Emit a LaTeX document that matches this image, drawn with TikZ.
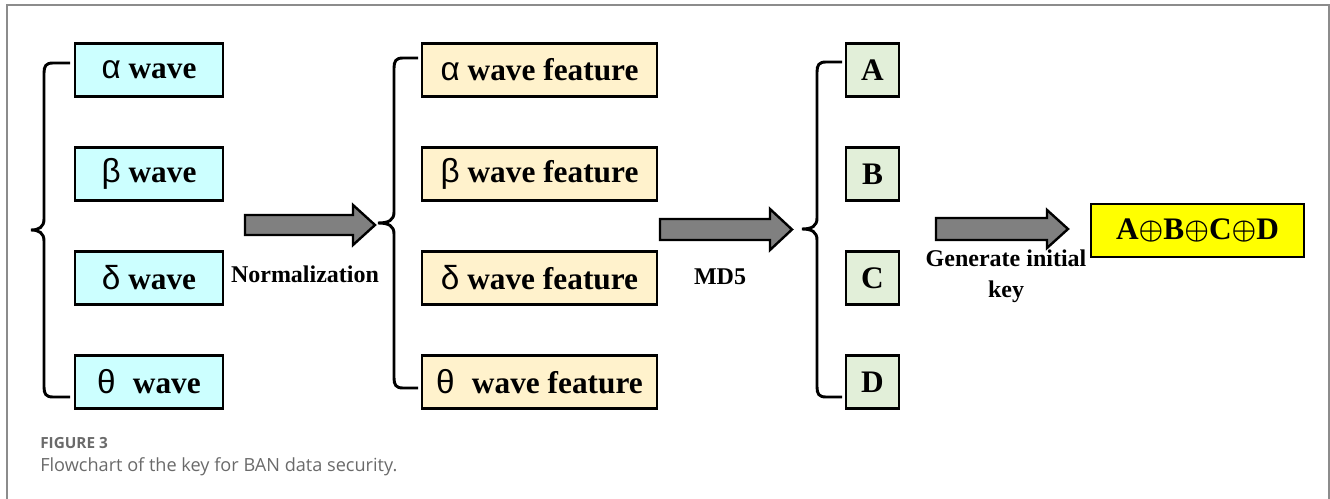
\documentclass[tikz,border=0pt]{standalone}
\usepackage{fontspec}
\setmainfont{Liberation Serif}
\newfontfamily\greekfont{Liberation Sans}
\newfontfamily\capfont{Open Sans}
\usetikzlibrary{calc}
\definecolor{wavecyan}{HTML}{CCFFFF}
\definecolor{featbeige}{HTML}{FFF2CC}
\definecolor{partgreen}{HTML}{E2EFD9}
\definecolor{keyyellow}{HTML}{FFFF00}
\definecolor{arrowgray}{HTML}{808080}
\definecolor{framegray}{HTML}{8C8C8C}
\definecolor{capgray}{HTML}{6A6A6A}
\tikzset{
  box/.style={draw=black, line width=2.2pt, minimum height=39.75pt, inner sep=0pt,
    font=\fontsize{23.5}{25}\selectfont\bfseries},
  wavebox/.style={box, fill=wavecyan, minimum width=111pt},
  featbox/.style={box, fill=featbeige, minimum width=176.25pt},
  partbox/.style={box, fill=partgreen, minimum width=39.75pt},
  keybox/.style={box, fill=keyyellow, minimum width=159.75pt},
  bracepath/.style={draw=black, line width=2.2pt},
  blockarrow/.style={draw=black, line width=1.8pt, fill=arrowgray, line join=miter},
  steplabel/.style={font=\fontsize{18}{23}\selectfont\bfseries, align=center, inner sep=0pt}
}
\newcommand{\gk}[1]{{\greekfont\mdseries\fontsize{25}{25}\selectfont #1}}
\newcommand{\xo}{{\fontsize{22}{22}\selectfont\raisebox{0.02em}{\boldmath$\oplus$}}}
\begin{document}
\begin{tikzpicture}[x=0.75pt, y=-0.75pt]
\useasboundingbox (0,0) rectangle (1330,499);

% outer frame, open at the bottom
\draw[framegray, line width=1.5pt] (7,499) -- (7,5.5) -- (1328.5,5.5) -- (1328.5,499);

% raw waves
\node[wavebox] (w1) at (149,70)  {\gk{α} wave};
\node[wavebox] (w2) at (149,174) {\gk{β} wave};
\node[wavebox] (w3) at (149,278) {\gk{δ} wave};
\node[wavebox] (w4) at (149,382) {\gk{θ}\hspace{0.3em} wave};

% normalised features
\node[featbox] (f1) at (539.5,70)  {\gk{α} wave feature};
\node[featbox] (f2) at (539.5,174) {\gk{β} wave feature};
\node[featbox] (f3) at (539.5,278) {\gk{δ} wave feature};
\node[featbox] (f4) at (539.5,382) {\gk{θ}\hspace{0.3em} wave feature};

% MD5 parts
\node[partbox] (p1) at (872.5,70)  {A};
\node[partbox] (p2) at (872.5,174) {B};
\node[partbox] (p3) at (872.5,278) {C};
\node[partbox] (p4) at (872.5,382) {D};

% initial key
\node[keybox] (k) at (1197.5,230.5) {A\xo B\xo C\xo D};

% braces grouping each column
\draw[bracepath] (70,63) -- (53,63) .. controls (46,63) and (44,66) .. (44,73)
  -- (44,219) .. controls (44,227) and (39,230) .. (31,230)
  .. controls (39,230) and (44,233) .. (44,241)
  -- (44,387) .. controls (44,394) and (46,397) .. (53,397) -- (70,397);
\draw[bracepath] (418,58) -- (403,58) .. controls (396,58) and (394,61) .. (394,68)
  -- (394,212) .. controls (394,220) and (389,223) .. (378,223)
  .. controls (389,223) and (394,226) .. (394,234)
  -- (394,378) .. controls (394,385) and (396,388) .. (403,388) -- (418,388);
\draw[bracepath] (842,62) -- (826,62) .. controls (819,62) and (817,65) .. (817,72)
  -- (817,218) .. controls (817,226) and (812,229) .. (802,229)
  .. controls (812,229) and (817,232) .. (817,240)
  -- (817,387) .. controls (817,394) and (819,397) .. (826,397) -- (842,397);

% block arrows between the stages
\draw[blockarrow] (245,215) -- (353,215) -- (353,205) -- (375,225) -- (353,245) -- (353,235) -- (245,235) -- cycle;
\draw[blockarrow] (660,219) -- (770,219) -- (770,209) -- (792,229.5) -- (770,250) -- (770,240) -- (660,240) -- cycle;
\draw[blockarrow] (936,218) -- (1047,218) -- (1047,210) -- (1068,229) -- (1047,248) -- (1047,240) -- (936,240) -- cycle;

% stage labels
\node[steplabel] (l1) at (305,274) {Normalization};
\node[steplabel] (l2) at (720,277) {MD5};
\node[steplabel] (l3) at (1006,276) {Generate initial\\key};

% caption
\node[anchor=west, inner sep=0pt, text=capgray, font=\capfont\bfseries\fontsize{11.5}{13}\selectfont] (cap1) at (40,443) {FIGURE 3};
\node[anchor=west, inner sep=0pt, text=capgray, font=\capfont\fontsize{13.6}{15}\selectfont] (cap2) at (40,467) {Flowchart of the key for BAN data security.};
\end{tikzpicture}
\end{document}
